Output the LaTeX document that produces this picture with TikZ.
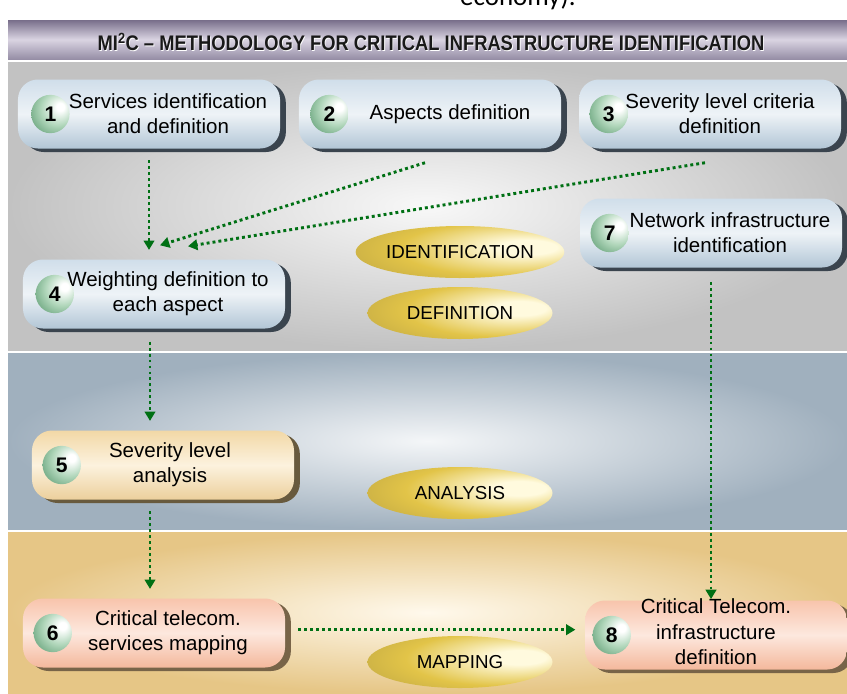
\documentclass[tikz,border=0pt]{standalone}
\usepackage{fontspec}
\setmainfont{Liberation Sans}
\newfontfamily\cutfont{Carlito}
\usepackage{xcolor}
\definecolor{title-top}{RGB}{120,110,138}
\definecolor{title-mid}{RGB}{218,212,226}
\definecolor{title-bottom}{RGB}{150,142,166}
\definecolor{band-gray}{RGB}{194,194,194}
\definecolor{band-gray-in}{RGB}{248,248,248}
\definecolor{band-blue}{RGB}{160,176,190}
\definecolor{band-blue-in}{RGB}{244,246,248}
\definecolor{band-tan}{RGB}{230,198,134}
\definecolor{band-tan-in}{RGB}{255,249,236}
\definecolor{sky-top}{RGB}{208,222,234}
\definecolor{sky-mid}{RGB}{238,243,247}
\definecolor{sky-bottom}{RGB}{178,198,214}
\definecolor{sky-shadow}{RGB}{58,68,78}
\definecolor{sand-top}{RGB}{242,216,166}
\definecolor{sand-mid}{RGB}{252,242,222}
\definecolor{sand-bottom}{RGB}{236,208,156}
\definecolor{sand-shadow}{RGB}{104,90,62}
\definecolor{peach-top}{RGB}{248,196,172}
\definecolor{peach-mid}{RGB}{253,232,222}
\definecolor{peach-bottom}{RGB}{244,184,156}
\definecolor{peach-shadow}{RGB}{120,100,72}
\definecolor{flow-green}{RGB}{0,112,20}
\definecolor{ball-light}{RGB}{176,214,186}
\definecolor{ball-mid}{RGB}{74,142,98}
\definecolor{ball-dark}{RGB}{24,78,44}
\definecolor{gold-light}{RGB}{255,250,222}
\definecolor{gold-mid}{RGB}{226,196,72}
\definecolor{gold-dark}{RGB}{64,62,52}
\usepackage{tikz}
\usetikzlibrary{arrows.meta,shadows,shapes.geometric}

\pgfdeclareradialshading{numball}{\pgfpoint{14bp}{10bp}}{%
  color(0bp)=(white); color(5bp)=(white); color(22bp)=(ball-light);
  color(45bp)=(ball-mid); color(70bp)=(ball-dark)}
\pgfdeclareradialshading{goldball}{\pgfpoint{18bp}{5bp}}{%
  color(0bp)=(gold-light); color(7bp)=(gold-light); color(26bp)=(gold-mid);
  color(48bp)=(gold-mid!70!gold-dark); color(70bp)=(gold-dark)}

\begin{document}
\begin{tikzpicture}[x=0.03cm, y=-0.03cm,
    band/.style={shading=radial, inner color=#1-in, outer color=#1},
    stage box/.style={rounded corners=17pt, minimum width=7.86cm, minimum height=2.07cm, inner sep=0pt,
        shading=axis, top color=#1-top, bottom color=#1-bottom, middle color=#1-mid,
        drop shadow={shadow xshift=5pt, shadow yshift=-3pt, fill=#1-shadow, opacity=1}},
    stage text/.style={align=center, font=\fontsize{17.5}{21.5}\selectfont},
    num ball/.style={circle, minimum size=1.15cm, inner sep=0pt, shading=numball, font=\bfseries\fontsize{18}{18}\selectfont},
    phase/.style={ellipse, minimum width=5.55cm, minimum height=1.56cm, inner sep=0pt, shading=goldball,
        font=\fontsize{16}{16}\selectfont},
    title text/.style={font=\bfseries\fontsize{18}{20}\selectfont},
    flow/.style={draw=flow-green, line width=2.5pt, dash pattern=on 2.5pt off 2.6pt,
        -{Triangle[length=8pt,width=9pt]}}
]
\useasboundingbox (0,0) rectangle (847,693);

% cut-off caption line above the figure
\node[anchor=base west, inner sep=0pt, font=\cutfont\fontsize{23}{23}\selectfont] (cut) at (460,5) {economy).};

% background bands
\shade[top color=title-top, bottom color=title-bottom, middle color=title-mid] (8,20) rectangle (847,59);
\shade[band=band-gray] (8,62) rectangle (847,350);
\shade[band=band-blue] (8,353) rectangle (847,529);
\shade[band=band-tan] (8,532) rectangle (847,693);

\node[title text, text=white] (title-glow) at ([shift={(0.7pt,-0.7pt)}]431,42)
    {\scalebox{0.87}[1]{MI\textsuperscript{2}C -- METHODOLOGY FOR CRITICAL INFRASTRUCTURE IDENTIFICATION}};
\node[title text, text=black!90] (title) at (431,42)
    {\scalebox{0.87}[1]{MI\textsuperscript{2}C -- METHODOLOGY FOR CRITICAL INFRASTRUCTURE IDENTIFICATION}};

% stages
\node[stage box=sky] (s1) at (149,114) {};
\node[stage box=sky] (s2) at (430,114) {};
\node[stage box=sky] (s3) at (710,114) {};
\node[stage box=sky] (s7) at (711,233) {};
\node[stage box=sky] (s4) at (154,294) {};
\node[stage box=sand] (s5) at (163,465) {};
\node[stage box=peach] (s6) at (154,633) {};
\node[stage box=peach] (s8) at (716,635) {};

\node[stage text] (t1) at ([xshift=0.57cm]s1.center) {Services identification\\and definition};
\node[stage text] (t2) at ([xshift=0.6cm]s2.center) {Aspects definition};
\node[stage text] (t3) at ([xshift=0.3cm]s3.center) {Severity level criteria\\definition};
\node[stage text] (t7) at ([xshift=0.57cm]s7.center) {Network infrastructure\\identification};
\node[stage text] (t4) at ([xshift=0.42cm]s4.center) {Weighting definition to\\each aspect};
\node[stage text] (t5) at ([xshift=0.21cm]s5.center) {Severity level\\analysis};
\node[stage text] (t6) at ([xshift=0.42cm]s6.center) {Critical telecom.\\services mapping};
\node[stage text] (t8) at ([xshift=0cm,yshift=0.1cm]s8.center) {Critical Telecom.\\infrastructure\\definition};

\node[num ball] (b1) at ([xshift=0.98cm]s1.west) {1};
\node[num ball] (b2) at ([xshift=0.92cm]s2.west) {2};
\node[num ball] (b3) at ([xshift=0.9cm]s3.west) {3};
\node[num ball] (b7) at ([xshift=0.9cm]s7.west) {7};
\node[num ball] (b4) at ([xshift=0.96cm]s4.west) {4};
\node[num ball] (b5) at ([xshift=0.9cm]s5.west) {5};
\node[num ball] (b6) at ([xshift=0.9cm]s6.west) {6};
\node[num ball] (b8) at ([xshift=0.81cm]s8.west) {8};

% phases
\node[phase] (identification) at (460,252) {IDENTIFICATION};
\node[phase] (definition) at (460,313) {DEFINITION};
\node[phase] (analysis) at (460,493) {ANALYSIS};
\node[phase] (mapping) at (460,662) {MAPPING};

% flows
\draw[flow, shorten <=10pt, shorten >=8pt] (s1.south) -- (s1.south |- s4.north);
\draw[flow] ([xshift=-0.15cm,yshift=-0.42cm]s2.south) -- ([xshift=0.18cm,yshift=0.42cm]s4.north);
\draw[flow] ([xshift=-0.15cm,yshift=-0.42cm]s3.south) -- ([xshift=1.02cm,yshift=0.39cm]s4.north);
\draw[flow, shorten <=11pt, shorten >=8pt] ([xshift=-0.12cm]s4.south) -- ([xshift=-0.12cm]s4.south |- s5.north);
\draw[flow, shorten <=10pt, shorten >=8pt] ([xshift=-0.39cm]s5.south) -- ([xshift=-0.39cm]s5.south |- s6.north);
\draw[flow, shorten <=11pt, shorten >=8pt] ([yshift=0.1cm]s6.east) -- ([yshift=0.1cm]s6.east -| s8.west);
\draw[flow, shorten <=12pt, shorten >=1pt] (s7.south) -- (s7.south |- s8.north);

\end{tikzpicture}
\end{document}
